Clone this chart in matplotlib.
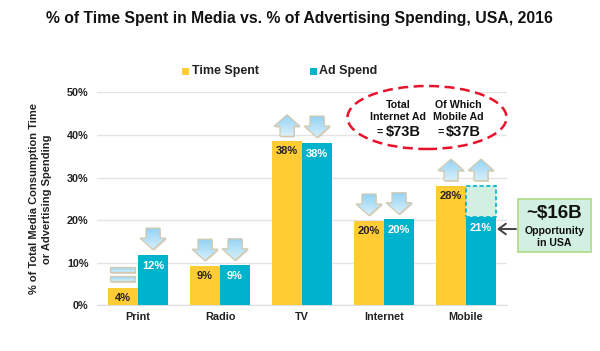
import matplotlib
matplotlib.use("Agg")
import matplotlib.pyplot as plt
import numpy as np
from matplotlib.patches import Polygon, Rectangle, Ellipse, FancyArrowPatch

plt.rcParams['font.family'] = ['Liberation Sans', 'DejaVu Sans']

categories = ['Print', 'Radio', 'TV', 'Internet', 'Mobile']
time_spent = [4.1, 9.3, 38.5, 19.9, 28.1]
ad_spend = [11.9, 9.4, 38.2, 20.2, 20.8]
time_labels = ['4%', '9%', '38%', '20%', '28%']
ad_labels = ['12%', '9%', '38%', '20%', '21%']
time_marks = ['equal', 'down', 'up', 'down', 'up']
ad_marks = ['down', 'down', 'down', 'down', 'up']
mobile_gap_top = 28.1
yticks = [0, 10, 20, 30, 40, 50]

W, H = 600, 351
YEL, TEAL = '#FFCC33', '#00B3CC'
fig = plt.figure(figsize=(W/100, H/100), dpi=100, facecolor='white')
ax = fig.add_axes([97/W, 1-305.3/H, 410/W, 213/H])
ax.set_xlim(-0.5, 4.5)
ax.set_ylim(0, 50)
bw = 0.366
x = np.arange(5)
ax.bar(x-bw/2, time_spent, bw, color=YEL, zorder=3)
ax.bar(x+bw/2, ad_spend, bw, color=TEAL, zorder=3)
# mobile gap
ax.bar(x[4]+bw/2, mobile_gap_top-ad_spend[4], bw, bottom=ad_spend[4], color='#D2F0E2',
       edgecolor=TEAL, linewidth=1.2, linestyle=(0, (2.5, 1.5)), zorder=3)

ax.set_yticks(yticks)
ax.set_yticklabels([f'{v}%' for v in yticks], fontsize=7.8, fontweight='bold', color='#222222')
ax.set_xticks(x)
ax.set_xticklabels(categories, fontsize=7.8, fontweight='bold', color='#222222')
ax.tick_params(length=0, pad=6)
ax.tick_params(axis='x', pad=5)
ax.grid(axis='y', color='#E4E4E4', linewidth=1, zorder=0)
ax.set_axisbelow(True)
for s in ax.spines.values():
    s.set_visible(False)
ax.spines['bottom'].set_visible(True)
ax.spines['bottom'].set_color('#DDDDDD')
ax.set_ylabel('% of Total Media Consumption Time\nor Advertising Spending', fontsize=8,
              fontweight='bold', color='#222222', linespacing=1.4)
ax.yaxis.set_label_coords((52-97)/410, 0.5)

for i in range(5):
    ax.annotate(time_labels[i], (x[i]-bw/2, time_spent[i]), xytext=(0, -5), textcoords='offset pixels',
                ha='center', va='top', fontsize=8, fontweight='bold', color='#222222', zorder=5)
    ax.annotate(ad_labels[i], (x[i]+bw/2, ad_spend[i]), xytext=(0, -6), textcoords='offset pixels',
                ha='center', va='top', fontsize=8, fontweight='bold', color='white', zorder=5)

# overlay in pixel coordinates (y up)
ov = fig.add_axes([0, 0, 1, 1], facecolor='none')
ov.set_xlim(0, W); ov.set_ylim(0, H); ov.axis('off')

def Y(py):
    return H - py

def grad(poly_pts, top_col, bot_col):
    xs, ys = zip(*poly_pts)
    c0 = np.array(matplotlib.colors.to_rgb(top_col)); c1 = np.array(matplotlib.colors.to_rgb(bot_col))
    t = np.linspace(0, 1, 32)[:, None, None]
    img = (c0*(1-t) + c1*t)
    im = ov.imshow(img, extent=[min(xs), max(xs), min(ys), max(ys)], origin='upper', aspect='auto', zorder=6)
    shadow = Polygon([(a+1, b-1.2) for a, b in poly_pts], closed=True, fc='#BBB8AE', ec='none', zorder=5.5, alpha=.6)
    ov.add_patch(shadow)
    p = Polygon(poly_pts, closed=True, fc='none', ec='#D3C9AE', lw=0.9, zorder=7)
    ov.add_patch(p)
    im.set_clip_path(p)

def arrow(cx, base, direction):
    hw, sw, h, hh = 13, 7, 21.5, 11.5
    if direction == 'down':
        tip = base + 5
        top = tip + h
        pts = [(cx, tip), (cx+hw, tip+hh), (cx+sw, tip+hh), (cx+sw, top), (cx-sw, top), (cx-sw, tip+hh), (cx-hw, tip+hh)]
        grad(pts, '#93D3F5', '#D8F0FB')
    elif direction == 'up':
        bot = base + 5
        tip = bot + h
        pts = [(cx, tip), (cx+hw, tip-hh), (cx+sw, tip-hh), (cx+sw, bot), (cx-sw, bot), (cx-sw, tip-hh), (cx-hw, tip-hh)]
        grad(pts, '#93D3F5', '#D8F0FB')
    else:
        for b in (base+6.5, base+15.5):
            pts = [(cx-12.5, b), (cx+12.5, b), (cx+12.5, b+5.5), (cx-12.5, b+5.5)]
            grad(pts, '#8FCFF0', '#CDEBFA')

ax_to_px = lambda xv, yv: ax.transData.transform((xv, yv))
for i in range(5):
    px, py = ax_to_px(x[i]-bw/2, time_spent[i])
    arrow(px, py, time_marks[i])
    top = mobile_gap_top if i == 4 else ad_spend[i]
    px, py = ax_to_px(x[i]+bw/2, top)
    arrow(px, py, ad_marks[i])

# Title
fig.text(299.5/W, 1-18/H, '% of Time Spent in Media vs. % of Advertising Spending, USA, 2016', ha='center', va='center',
         fontsize=11.3, fontweight='bold', color='#111111')
# Legend
ov.add_patch(Rectangle((182, Y(75)), 7, 7, fc=YEL, ec='none', zorder=8))
ov.text(192, Y(71), 'Time Spent', fontsize=9, fontweight='bold', color='#222222', va='center', ha='left')
ov.add_patch(Rectangle((310, Y(75)), 7, 7, fc=TEAL, ec='none', zorder=8))
ov.text(319, Y(71), 'Ad Spend', fontsize=9, fontweight='bold', color='#222222', va='center', ha='left')

# Ellipse annotation
ov.add_patch(Ellipse((427, Y(117.5)), 159, 63, fc='white', ec='#E8132B', lw=1.8, ls=(0, (4, 2.2)), zorder=8))
for cx, l1, l2, l3, eqx, vx in [(398.5, 'Total', 'Internet Ad', '$73B', 379.5, 403),
                                (458.5, 'Of Which', 'Mobile Ad', '$37B', 440.5, 463.5)]:
    ov.text(cx, Y(104.5), l1, fontsize=7.7, fontweight='bold', color='#111111', ha='center', va='center', zorder=9)
    ov.text(cx, Y(117), l2, fontsize=7.7, fontweight='bold', color='#111111', ha='center', va='center', zorder=9)
    ov.text(eqx, Y(132), '=', fontsize=7.7, fontweight='bold', color='#111111', ha='center', va='center', zorder=9)
    ov.text(vx, Y(132), l3, fontsize=10.5, fontweight='bold', color='#111111', ha='center', va='center', zorder=9)

# Opportunity box
ov.add_patch(Rectangle((518, Y(252)), 73, 53, fc='#D2F0E2', ec='#B4DC8C', lw=1.3, zorder=8))
ov.text(554, Y(214), '~$16B', fontsize=13.5, fontweight='bold', color='#111111', ha='center', va='center', zorder=9)
ov.text(554.5, Y(231), 'Opportunity', fontsize=7.6, fontweight='bold', color='#111111', ha='center', va='center', zorder=9)
ov.text(554.5, Y(243), 'in USA', fontsize=7.6, fontweight='bold', color='#111111', ha='center', va='center', zorder=9)
ov.add_patch(FancyArrowPatch((516, Y(229)), (497, Y(229)), arrowstyle='->,head_length=2.6,head_width=1.9',
                             color='#404040', lw=1.4, mutation_scale=2, shrinkA=0, shrinkB=0, zorder=9))
fig.savefig('out.png', dpi=100)
